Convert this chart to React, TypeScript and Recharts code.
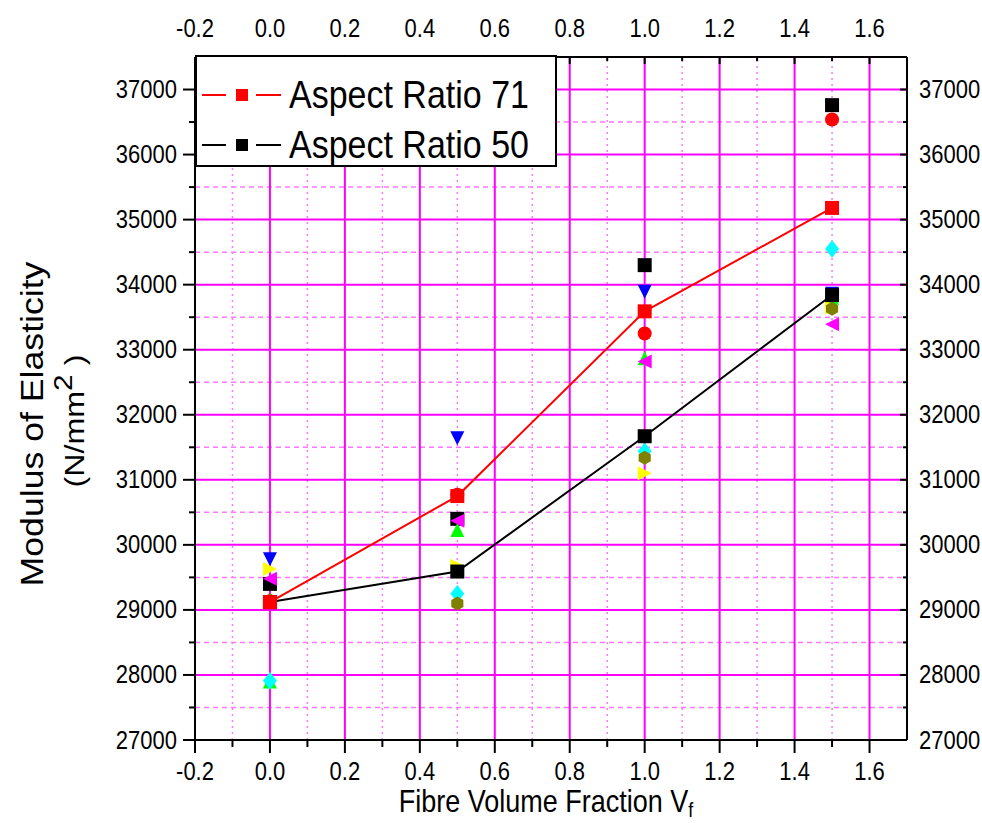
import React from 'react';
import { ScatterChart, Scatter, XAxis, YAxis, ReferenceLine, Legend } from 'recharts';

const FONT = '"Liberation Sans", Arial, Helvetica, sans-serif';
const STRETCH = 1.15;

// fibre volume fraction (%)
const fractions = [0, 0.5, 1.0, 1.5];

// mean curves
const aspect71 = [29120, 30750, 33590, 35180];
const aspect50 = [29120, 29590, 31670, 33840];

// individual specimen results (Origin default colour / symbol order)
const specBlack = [29400, 30400, 34300, 36760];
const specRed = [29130, 30770, 33250, 36540];
const specGreen = [27900, 30230, 32870, 33800];
const specBlue = [29780, 31640, 33890, 33860];
const specCyan = [27910, 29250, 31440, 34550];
const specMagenta = [29480, 30370, 32820, 33390];
const specYellow = [29630, 29680, 31100, 33650];
const specOlive = [29150, 29100, 31340, 33630];

const xMajor = [-0.2, 0, 0.2, 0.4, 0.6, 0.8, 1.0, 1.2, 1.4, 1.6];
const xMinor = [-0.1, 0.1, 0.3, 0.5, 0.7, 0.9, 1.1, 1.3, 1.5];
const yMajor = [27000, 28000, 29000, 30000, 31000, 32000, 33000, 34000, 35000, 36000, 37000];
const yMinor = [27500, 28500, 29500, 30500, 31500, 32500, 33500, 34500, 35500, 36500];

const xAll = [...xMajor, ...xMinor].sort((a, b) => a - b);
const yAll = [...yMajor, ...yMinor].sort((a, b) => a - b);

const legendItems = [
  { name: 'Aspect Ratio 71', color: '#ff0000' },
  { name: 'Aspect Ratio 50', color: '#000000' },
];

const toPoints = (ys: number[]) => fractions.map((x, i) => ({ x, y: ys[i] }));

const isMajorX = (v: number) => Math.round(v * 10) % 2 === 0;
const isMajorY = (v: number) => v % 1000 === 0;

// text slightly stretched vertically like the original export
const Txt = ({ x, y, size, anchor = 'middle', rotate = false, children }: any) => (
  <text
    transform={
      rotate
        ? `translate(${x},${y}) rotate(-90) scale(${STRETCH},1)`
        : `translate(${x},${y}) scale(1,${STRETCH})`
    }
    x={0}
    y={0}
    fontSize={size}
    fontFamily={FONT}
    textAnchor={anchor}
    dominantBaseline="central"
    fill="#000"
  >
    {children}
  </text>
);

function makeMarker(kind: string, color: string, r = 7) {
  return (props: any) => {
    const { cx, cy } = props;
    if (cx == null || cy == null) return <g />;
    switch (kind) {
      case 'none':
        return <g />;
      case 'square':
        return <rect x={cx - r} y={cy - r} width={2 * r} height={2 * r} fill={color} />;
      case 'circle':
        return <circle cx={cx} cy={cy} r={r} fill={color} />;
      case 'up':
        return <path d={`M${cx},${cy - r}L${cx + r},${cy + r}L${cx - r},${cy + r}Z`} fill={color} />;
      case 'down':
        return <path d={`M${cx - r},${cy - r}L${cx + r},${cy - r}L${cx},${cy + r}Z`} fill={color} />;
      case 'left':
        return <path d={`M${cx - r},${cy}L${cx + r},${cy - r}L${cx + r},${cy + r}Z`} fill={color} />;
      case 'right':
        return <path d={`M${cx + r},${cy}L${cx - r},${cy - r}L${cx - r},${cy + r}Z`} fill={color} />;
      case 'diamond':
        return <path d={`M${cx},${cy - r * 1.25}L${cx + r},${cy}L${cx},${cy + r * 1.25}L${cx - r},${cy}Z`} fill={color} />;
      default: {
        const pts = [0, 1, 2, 3, 4, 5]
          .map((k) => {
            const a = (Math.PI / 3) * k + Math.PI / 6;
            return `${cx + r * Math.cos(a)},${cy + r * Math.sin(a)}`;
          })
          .join(' ');
        return <polygon points={pts} fill={color} />;
      }
    }
  };
}

const BottomTick = ({ x, y, payload }: any) => {
  const major = isMajorX(payload.value);
  return (
    <g>
      <line x1={x} x2={x} y1={y} y2={y + (major ? 13 : 7)} stroke="#000" strokeWidth={2} />
      {major && (
        <Txt x={x} y={y + 31} size={22}>
          {payload.value.toFixed(1)}
        </Txt>
      )}
    </g>
  );
};

const TopTick = ({ x, y, payload }: any) => {
  const major = isMajorX(payload.value);
  return (
    <g>
      <line x1={x} x2={x} y1={y} y2={y + (major ? 7 : 4)} stroke="#000" strokeWidth={2} />
      {major && (
        <Txt x={x} y={y - 29} size={22}>
          {payload.value.toFixed(1)}
        </Txt>
      )}
    </g>
  );
};

const LeftTick = ({ x, y, payload }: any) => {
  const major = isMajorY(payload.value);
  return (
    <g>
      <line x1={x - (major ? 12 : 6)} x2={x} y1={y} y2={y} stroke="#000" strokeWidth={2} />
      {major && (
        <Txt x={x - 18} y={y} size={22} anchor="end">
          {payload.value}
        </Txt>
      )}
    </g>
  );
};

const RightTick = ({ x, y, payload }: any) => {
  const major = isMajorY(payload.value);
  return (
    <g>
      <line x1={x - (major ? 7 : 4)} x2={x} y1={y} y2={y} stroke="#000" strokeWidth={2} />
      {major && (
        <Txt x={x + 12} y={y} size={22} anchor="start">
          {payload.value}
        </Txt>
      )}
    </g>
  );
};

const XTitle = () => (
  <Txt x={546} y={801} size={27}>
    Fibre Volume Fraction V
    <tspan fontSize={18} dy={7}>f</tspan>
  </Txt>
);

const YTitle = () => (
  <g>
    <Txt x={32} y={424} size={31} rotate>
      Modulus of Elasticity
    </Txt>
    <Txt x={74} y={421} size={28} rotate>
      (N/mm
      <tspan fontSize={26} dy={-11}>2</tspan>
      <tspan dy={11}> )</tspan>
    </Txt>
  </g>
);

const LegendBox = () => (
  <svg width={362} height={112} style={{ display: 'block' }}>
    <rect x={1} y={1} width={360} height={110} fill="#fff" stroke="#000" strokeWidth={2} />
    {legendItems.map((it, i) => {
      const cy = 40 + i * 50;
      return (
        <g key={it.name}>
          <line x1={7} x2={31} y1={cy} y2={cy} stroke={it.color} strokeWidth={2} />
          <rect x={41} y={cy - 6} width={12} height={12} fill={it.color} />
          <line x1={61} x2={86} y1={cy} y2={cy} stroke={it.color} strokeWidth={2} />
          <Txt x={94} y={cy} size={34} anchor="start">
            {it.name}
          </Txt>
        </g>
      );
    })}
  </svg>
);

const specimens = [
  { data: specBlack, kind: 'square', color: '#000000' },
  { data: specRed, kind: 'circle', color: '#ff0000' },
  { data: specGreen, kind: 'up', color: '#00ff00' },
  { data: specBlue, kind: 'down', color: '#0000ff' },
  { data: specCyan, kind: 'diamond', color: '#00ffff' },
  { data: specMagenta, kind: 'left', color: '#ff00ff' },
  { data: specYellow, kind: 'right', color: '#ffff00' },
  { data: specOlive, kind: 'hexagon', color: '#808000' },
];

export default function App() {
  return (
    <div style={{ width: 982, height: 823, background: '#fff' }}>
      <style>{'body{margin:0;}'}</style>
      <ScatterChart width={982} height={823} margin={{ top: 0, right: 0, bottom: 0, left: 0 }}>
        <XAxis
          xAxisId="b"
          dataKey="x"
          type="number"
          domain={[-0.2, 1.7]}
          allowDataOverflow
          ticks={xAll}
          interval={0}
          tickSize={0}
          tickMargin={0}
          tickLine={false}
          height={83}
          axisLine={{ stroke: '#000', strokeWidth: 2 }}
          tick={(p: any) => <BottomTick {...p} />}
          label={{ content: XTitle }}
        />
        <XAxis
          xAxisId="t"
          dataKey="x"
          orientation="top"
          type="number"
          domain={[-0.2, 1.7]}
          allowDataOverflow
          ticks={xAll}
          interval={0}
          tickSize={0}
          tickMargin={0}
          tickLine={false}
          height={57}
          axisLine={{ stroke: '#000', strokeWidth: 2 }}
          tick={(p: any) => <TopTick {...p} />}
        />
        <YAxis
          yAxisId="l"
          dataKey="y"
          type="number"
          domain={[27000, 37500]}
          allowDataOverflow
          ticks={yAll}
          interval={0}
          tickSize={0}
          tickMargin={0}
          tickLine={false}
          width={195}
          axisLine={{ stroke: '#000', strokeWidth: 2 }}
          tick={(p: any) => <LeftTick {...p} />}
          label={{ content: YTitle }}
        />
        <YAxis
          yAxisId="r"
          dataKey="y"
          orientation="right"
          type="number"
          domain={[27000, 37500]}
          allowDataOverflow
          ticks={yAll}
          interval={0}
          tickSize={0}
          tickMargin={0}
          tickLine={false}
          width={75}
          axisLine={{ stroke: '#000', strokeWidth: 2 }}
          tick={(p: any) => <RightTick {...p} />}
        />

        {xMinor.map((v) => (
          <ReferenceLine key={`xm${v}`} xAxisId="b" yAxisId="l" x={v} stroke="#ff77ff" strokeWidth={1.5} strokeDasharray="2 4" />
        ))}
        {yMinor.map((v) => (
          <ReferenceLine key={`ym${v}`} xAxisId="b" yAxisId="l" y={v} stroke="#ff77ff" strokeWidth={1.5} strokeDasharray="5 4" />
        ))}
        {xMajor.filter((v) => v > -0.2).map((v) => (
          <ReferenceLine key={`xM${v}`} xAxisId="b" yAxisId="l" x={v} stroke="#ff00ff" strokeWidth={2} />
        ))}
        {yMajor.filter((v) => v > 27000).map((v) => (
          <ReferenceLine key={`yM${v}`} xAxisId="b" yAxisId="l" y={v} stroke="#ff00ff" strokeWidth={2} />
        ))}

        {/* invisible series so the top / right mirror axes get a domain */}
        <Scatter
          xAxisId="t"
          yAxisId="r"
          data={toPoints(aspect71)}
          shape={makeMarker('none', 'none')}
          legendType="none"
          isAnimationActive={false}
        />

        {specimens.map((s, i) => (
          <Scatter
            key={`spec${i}`}
            xAxisId="b"
            yAxisId="l"
            data={toPoints(s.data)}
            fill={s.color}
            shape={makeMarker(s.kind, s.color)}
            legendType="none"
            isAnimationActive={false}
          />
        ))}
        <Scatter
          name={legendItems[1].name}
          xAxisId="b"
          yAxisId="l"
          data={toPoints(aspect50)}
          fill="#000000"
          line={{ stroke: '#000000', strokeWidth: 2 }}
          shape={makeMarker('square', '#000000')}
          isAnimationActive={false}
        />
        <Scatter
          name={legendItems[0].name}
          xAxisId="b"
          yAxisId="l"
          data={toPoints(aspect71)}
          fill="#ff0000"
          line={{ stroke: '#ff0000', strokeWidth: 2 }}
          shape={makeMarker('square', '#ff0000')}
          isAnimationActive={false}
        />

        <Legend
          layout="vertical"
          align="center"
          verticalAlign="middle"
          wrapperStyle={{ position: 'absolute', left: 195, top: 55, width: 362, height: 112 }}
          content={() => <LegendBox />}
        />
      </ScatterChart>
    </div>
  );
}
